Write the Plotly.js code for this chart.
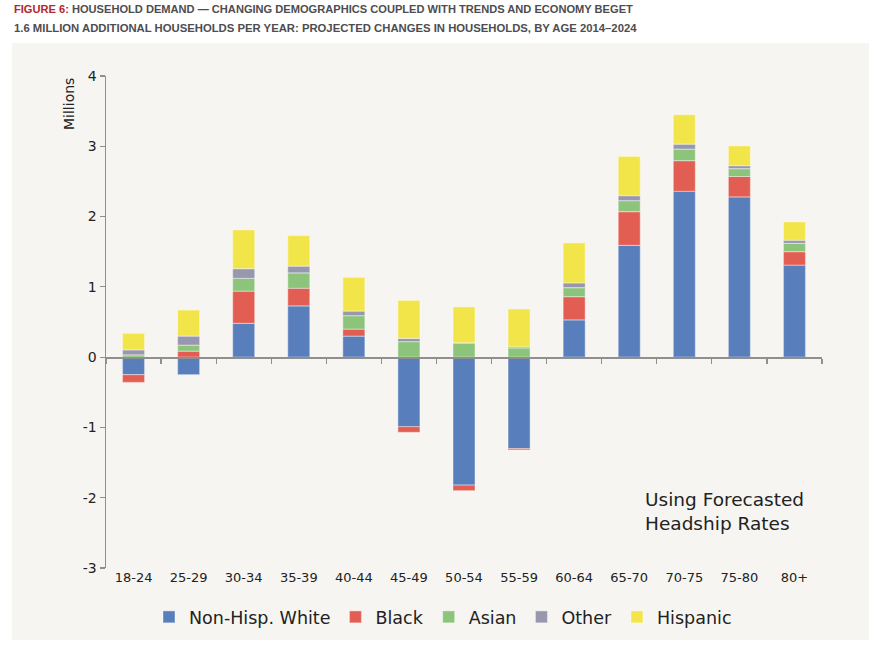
<!DOCTYPE html>
<html><head><meta charset="utf-8">
<script src="https://cdn.plot.ly/plotly-3.0.1.min.js"></script>
<style>html,body{margin:0;padding:0;background:#fff}#chart{width:880px;height:648px}</style>
</head><body><div id="chart"></div>
<script>
const ageGroups = ['18-24','25-29','30-34','35-39','40-44','45-49','50-54','55-59','60-64','65-70','70-75','75-80','80+'];
const nonHispWhite = [-0.25,-0.25,0.48,0.73,0.30,-0.99,-1.82,-1.30,0.53,1.59,2.36,2.28,1.31];
const black = [-0.11,0.085,0.46,0.25,0.10,-0.08,-0.08,-0.02,0.33,0.48,0.435,0.29,0.19];
const asian = [0.033,0.085,0.18,0.22,0.19,0.22,0.20,0.13,0.13,0.156,0.165,0.113,0.12];
const other = [0.07,0.13,0.14,0.095,0.066,0.047,0.005,0.015,0.066,0.07,0.07,0.043,0.043];
const hispanic = [0.236,0.37,0.55,0.435,0.48,0.54,0.51,0.54,0.57,0.56,0.42,0.28,0.26];
const seriesNames = ['Non-Hisp. White','Black','Asian','Other','Hispanic'];
const seriesColors = ['#587ebc','#e25e52','#8dc47c','#9797ad','#f2e54a'];
const tickVals = [-3,-2,-1,0,1,2,3,4];
const tickText = ['-3','-2','-1','0','1','2','3','4'];

const seriesData = [nonHispWhite, black, asian, other, hispanic];
const FONT = 'DejaVu Sans, sans-serif';
const traces = seriesData.map((vals, i) => ({
  type: 'bar', name: seriesNames[i], x: ageGroups, y: vals,
  marker: {color: seriesColors[i], line: {color: 'rgba(255,255,255,0.35)', width: 1.2}},
  hoverinfo: 'skip'
}));
traces.push({type: 'scatter', mode: 'markers', x: ageGroups, y: ageGroups.map(() => 0),
  xaxis: 'x2', yaxis: 'y', marker: {opacity: 0}, showlegend: false, hoverinfo: 'skip'});

const L = 106, R = 822, T = 76, B = 568, W = 880, H = 648;
const px = x => (x - L) / (R - L);
const py = y => (B - y) / (B - T);

const layout = {
  width: W, height: H,
  margin: {l: L, r: W - R, t: T, b: H - B},
  paper_bgcolor: '#ffffff', plot_bgcolor: 'rgba(0,0,0,0)',
  barmode: 'relative', bargap: 0.6,
  font: {family: FONT, color: '#222'},
  xaxis: {type: 'category', range: [-0.5, 12.5], showline: false, ticks: '', showgrid: false,
    zeroline: false, tickfont: {size: 13, color: '#222'}, fixedrange: true},
  xaxis2: {type: 'category', overlaying: 'x', anchor: 'free', position: 3/7, range: [-0.5, 12.5],
    showline: true, linecolor: '#8f8f8f', linewidth: 1.5, ticks: 'outside', tickson: 'boundaries',
    ticklen: 5, tickcolor: '#8f8f8f', tickwidth: 1.2, showticklabels: false, showgrid: false, zeroline: false},
  yaxis: {range: [-3, 4], tickvals: tickVals, ticktext: tickText, showline: true, linecolor: '#8f8f8f', linewidth: 1.5,
    ticks: 'outside', ticklen: 5, tickcolor: '#8f8f8f', tickwidth: 1.2, showgrid: false, zeroline: false,
    tickfont: {size: 14, color: '#222'}},
  showlegend: true,
  legend: {orientation: 'h', x: px(443), xanchor: 'center', y: py(617), yanchor: 'middle',
    font: {size: 17.5, color: '#222'}, traceorder: 'normal', bgcolor: 'rgba(0,0,0,0)'},
  shapes: [{type: 'rect', xref: 'paper', yref: 'paper', x0: px(12), x1: px(869), y0: py(640), y1: py(43),
    fillcolor: '#f6f5f1', line: {width: 0}, layer: 'below'}],
  annotations: [
    {xref: 'paper', yref: 'paper', x: px(12), y: py(9), xanchor: 'left', yanchor: 'middle', showarrow: false,
      text: '<b><span style="color:#b3272d">FIGURE 6:</span> HOUSEHOLD DEMAND — CHANGING DEMOGRAPHICS COUPLED WITH TRENDS AND ECONOMY BEGET</b>',
      font: {family: 'Liberation Sans, sans-serif', size: 11.1, color: '#4d4d4f'}},
    {xref: 'paper', yref: 'paper', x: px(12), y: py(28), xanchor: 'left', yanchor: 'middle', showarrow: false,
      text: '<b>1.6 MILLION ADDITIONAL HOUSEHOLDS PER YEAR: PROJECTED CHANGES IN HOUSEHOLDS, BY AGE 2014–2024</b>',
      font: {family: 'Liberation Sans, sans-serif', size: 11.3, color: '#4d4d4f'}},
    {xref: 'paper', yref: 'paper', x: px(69), y: py(104), xanchor: 'center', yanchor: 'middle', showarrow: false,
      textangle: -90, text: 'Millions', font: {size: 14, color: '#222'}},
    {xref: 'paper', yref: 'paper', x: px(643), y: py(511), xanchor: 'left', yanchor: 'middle', showarrow: false,
      align: 'left', text: 'Using Forecasted<br>Headship Rates', font: {size: 18.5, color: '#222'}}
  ]
};
Plotly.newPlot('chart', traces, layout, {staticPlot: true, displayModeBar: false});
</script></body></html>
